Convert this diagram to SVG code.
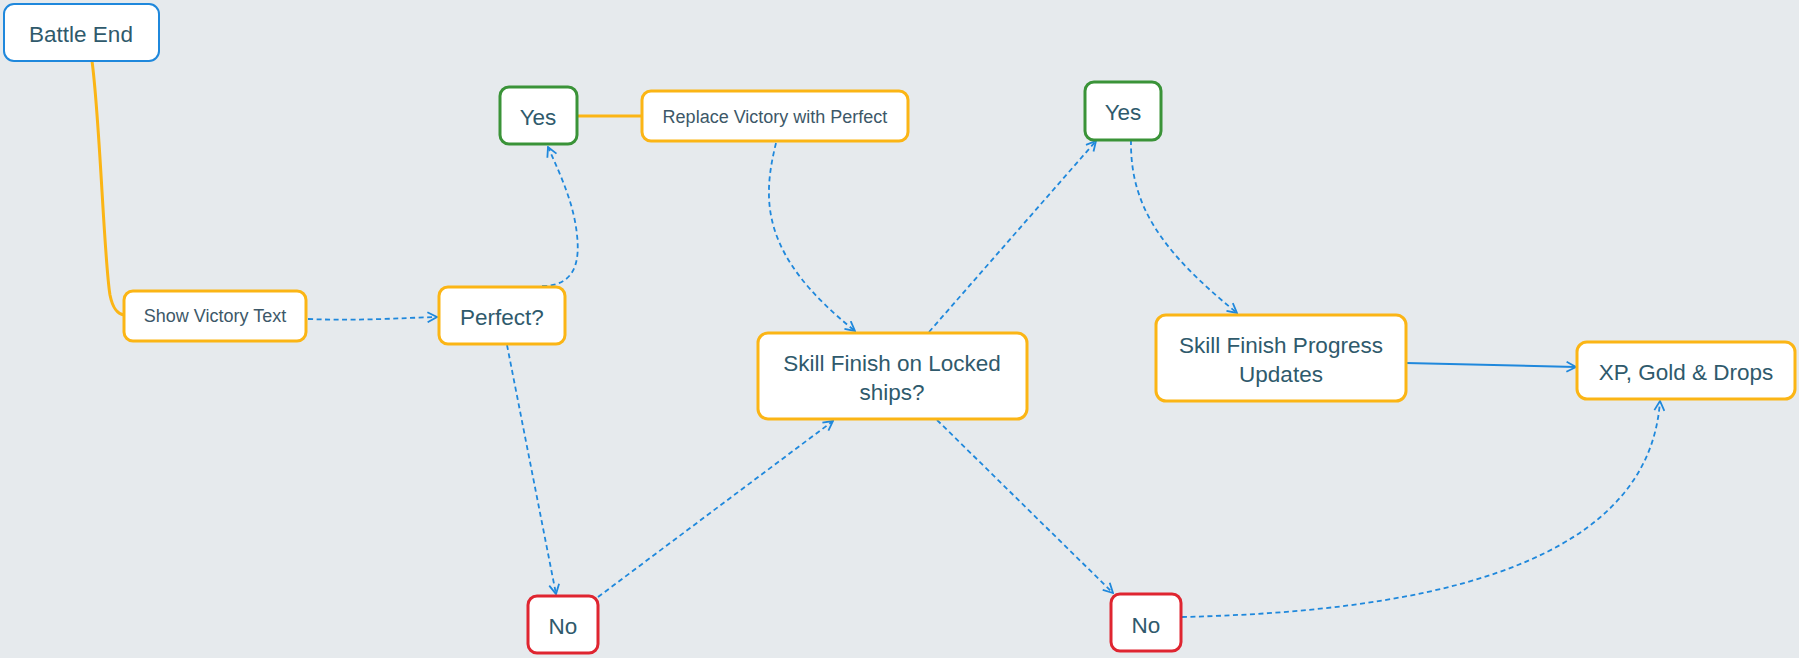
<svg xmlns="http://www.w3.org/2000/svg" width="1799" height="658" viewBox="0 0 1799 658">
<style>
.bg{fill:#e6eaed}
.box{fill:#ffffff;stroke-width:3}
.blue{stroke:#1f88dc}
.yel{stroke:#fbb515}
.grn{stroke:#3a9338}
.red{stroke:#df2530}
.t{font-family:"Liberation Sans",Arial,sans-serif;fill:#2f5a6c;text-anchor:middle;dominant-baseline:central}
.big{font-size:22.5px}
.sm{font-size:18px;fill:#3d5868}
.dash{fill:none;stroke:#1f88dc;stroke-width:1.8;stroke-dasharray:5 3.5}
.solid{fill:none;stroke:#1f88dc;stroke-width:2}
.yline{fill:none;stroke:#fbb515;stroke-width:3}
</style>
<defs>
<marker id="arr" viewBox="0 0 12 12" markerWidth="12" markerHeight="12" refX="11" refY="6" orient="auto" markerUnits="userSpaceOnUse">
<path d="M1.5,1 L11,6 L1.5,11" fill="none" stroke="#1f88dc" stroke-width="1.8"/>
</marker>
</defs>
<rect class="bg" x="0" y="0" width="1799" height="658"/>
<g id="connectors">
<path class="yline" d="M92,61 C100,120 104,260 110,295 C113,310 118,314 124,315"/>
<path class="yline" d="M577,116 L642,116"/>
<path class="dash" d="M308,319 C360,321 400,318 437,317" marker-end="url(#arr)"/>
<path class="dash" d="M542,286 C575,286 580,262 577,235 C574,205 562,178 548,147" marker-end="url(#arr)"/>
<path class="dash" d="M507,345 L556,594" marker-end="url(#arr)"/>
<path class="dash" d="M776,143 C762,200 760,255 855,331" marker-end="url(#arr)"/>
<path class="dash" d="M598,597 L833,421" marker-end="url(#arr)"/>
<path class="dash" d="M929,332 L1096,141" marker-end="url(#arr)"/>
<path class="dash" d="M937,420 L1113,593" marker-end="url(#arr)"/>
<path class="dash" d="M1131,140 C1130,205 1160,250 1237,313" marker-end="url(#arr)"/>
<path class="solid" d="M1406,363 L1576,367" marker-end="url(#arr)"/>
<path class="dash" d="M1182,617 C1400,612 1648,575 1660,401" marker-end="url(#arr)"/>
</g>
<g id="battle-end">
<rect class="box blue" x="4" y="4" width="155" height="57" rx="10" style="stroke-width:2"/>
<text class="t big" x="81" y="34">Battle End</text>
</g>
<g id="show-victory">
<rect class="box yel" x="124" y="291" width="182" height="50" rx="9"/>
<text class="t sm" x="215" y="316">Show Victory Text</text>
</g>
<g id="perfect">
<rect class="box yel" x="439" y="287" width="126" height="57" rx="9"/>
<text class="t big" x="502" y="317">Perfect?</text>
</g>
<g id="yes1">
<rect class="box grn" x="500" y="87" width="77" height="57" rx="9"/>
<text class="t big" x="538" y="117">Yes</text>
</g>
<g id="replace">
<rect class="box yel" x="642" y="91" width="266" height="50" rx="9"/>
<text class="t sm" x="775" y="117">Replace Victory with Perfect</text>
</g>
<g id="no1">
<rect class="box red" x="528" y="596" width="70" height="57" rx="9"/>
<text class="t big" x="563" y="626">No</text>
</g>
<g id="locked">
<rect class="box yel" x="758" y="333" width="269" height="86" rx="10"/>
<text class="t big" x="892" y="363">Skill Finish on Locked</text>
<text class="t big" x="892" y="392">ships?</text>
</g>
<g id="yes2">
<rect class="box grn" x="1085" y="82" width="76" height="58" rx="9"/>
<text class="t big" x="1123" y="112">Yes</text>
</g>
<g id="no2">
<rect class="box red" x="1111" y="594" width="70" height="57" rx="9"/>
<text class="t big" x="1146" y="625">No</text>
</g>
<g id="progress">
<rect class="box yel" x="1156" y="315" width="250" height="86" rx="10"/>
<text class="t big" x="1281" y="345">Skill Finish Progress</text>
<text class="t big" x="1281" y="374">Updates</text>
</g>
<g id="xp">
<rect class="box yel" x="1577" y="342" width="218" height="57" rx="10"/>
<text class="t big" x="1686" y="372">XP, Gold &amp; Drops</text>
</g>
</svg>
